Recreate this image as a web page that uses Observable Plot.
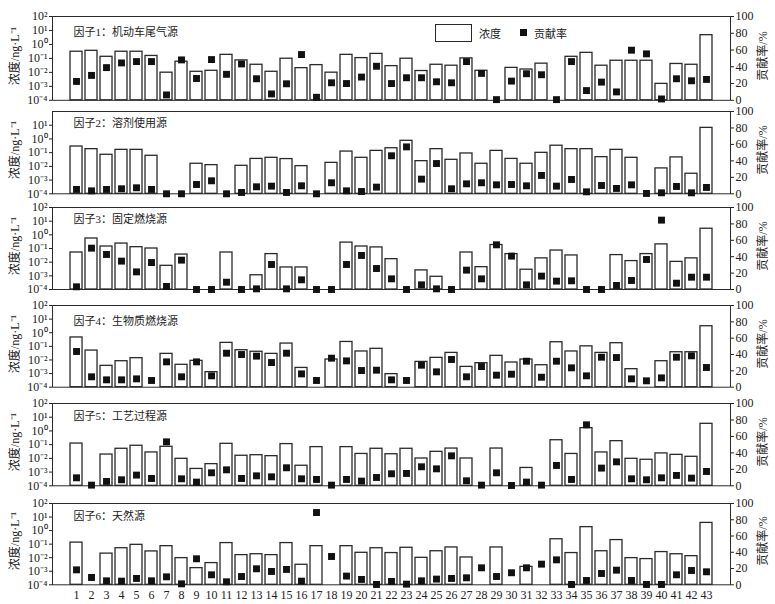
<!DOCTYPE html>
<html><head><meta charset="utf-8">
<script src="https://cdn.jsdelivr.net/npm/d3@7"></script>
<script src="https://cdn.jsdelivr.net/npm/@observablehq/plot@0.6"></script>
<style>
body{margin:0;background:#fff;}
#fig{position:relative;width:775px;height:604px;overflow:hidden;font-family:"Liberation Serif","Noto Sans CJK SC",serif;color:#222;}
.layer{position:absolute;left:0;}
.rot{position:absolute;font-size:12px;white-space:nowrap;transform:translate(-50%,-50%) rotate(-90deg);}
.lg{position:absolute;font-size:11px;white-space:nowrap;}
</style></head><body><div id="fig"></div>
<script>
const sites = [1,2,3,4,5,6,7,8,9,10,11,12,13,14,15,16,17,18,19,20,21,22,23,24,25,26,27,28,29,30,31,32,33,34,35,36,37,38,39,40,41,42,43];
const factorNames = ["因子1：机动车尾气源","因子2：溶剂使用源","因子3：固定燃烧源","因子4：生物质燃烧源","因子5：工艺过程源","因子6：天然源"];
// concentrations, ng/L (null = no bar)
const conc1 = [0.30,0.35,0.13,0.30,0.30,0.15,0.0095,0.058,0.011,0.013, 0.18,0.072,0.035,0.011,0.095,0.020,0.033,0.0095,0.18,0.105, 0.21,0.028,0.095,0.0125,0.035,0.030,0.10,0.013,null,0.021, 0.016,0.042,null,0.13,0.25,0.030,0.068,0.068,0.068,0.0015, 0.040,0.035,4.6];
const conc2 = [0.28,0.18,0.07,0.16,0.16,0.059,null,null,0.0155,0.0123, null,0.011,0.035,0.042,0.034,0.0104,null,0.018,0.12,0.042, 0.135,0.21,0.73,0.024,0.18,0.030,0.087,0.0155,0.135,0.035, 0.0155,0.097,0.32,0.18,0.18,0.047,0.16,0.042,null,0.0071, 0.045,0.0029,6.4];
const conc3 = [0.051,0.54,0.14,0.23,0.125,0.10,0.0054,0.036,null,null, 0.051,null,0.0011,0.039,0.0041,0.0041,null,null,0.27,0.14, 0.12,0.0166,null,0.0025,0.00085,null,0.051,0.0043,0.18,0.039, 0.0028,0.019,0.071,0.031,null,null,0.033,0.012,0.039,0.20, 0.0105,0.019,2.8];
const conc4 = [0.45,0.049,0.0037,0.0081,0.0135,null,0.028,0.0044,0.0086,0.00127, 0.18,0.052,0.040,0.028,0.16,0.0026,null,0.0108,0.21,0.042, 0.066,0.00091,null,0.0072,0.0143,0.033,0.0031,0.0058,0.020,0.0065, 0.0108,0.0041,0.20,0.042,0.10,0.033,0.17,0.0021,null,0.0081, 0.037,0.037,3.0];
const conc5 = [0.12,null,0.019,0.050,0.083,0.027,0.070,0.0093,0.0017,0.0038, 0.115,0.0155,0.017,0.0145,0.11,0.0029,0.066,null,0.066,0.021, 0.050,0.020,0.050,0.0098,0.030,0.052,0.0098,null,0.052,null, 0.0020,null,0.21,0.021,1.6,0.027,0.18,0.0093,0.0079,0.023, 0.018,0.013,3.3];
const conc6 = [0.13,null,0.020,0.050,0.089,0.029,0.071,0.0093,0.0017,0.0040, 0.12,0.0155,0.018,0.0155,0.12,0.0030,0.071,null,0.071,0.023, 0.050,0.022,0.054,0.0098,0.030,0.057,0.0104,null,0.057,null, 0.0021,null,0.23,0.022,1.8,0.030,0.20,0.0093,0.0079,0.026, 0.018,0.013,3.7];
// contribution rates, %
const pct1 = [22.5,29.7,39,44.6,46.2,46.2,6.4,48.2,26,48.6, 31,43.4,25.7,7.6,19.7,54.6,3.6,20.9,20,27.7, 40.6,20,26.9,26.9,22.1,20.9,46.2,32.1,0.8,22.9, 31.7,30.5,0.8,46.2,11.6,21.7,10,59.8,55.4,1.6, 25.7,23.3,24.9];
const pct2 = [5.3,3.6,5.3,6.1,7.3,5.3,0,0,11.3,15.8, 0,1.6,8.5,9.3,1.6,9.7,0,13.4,3.6,2.8, 8.1,46.2,57,17.8,36.8,6.1,12.1,13.4,10.9,11.3, 9.7,22.3,9.3,17.4,2.4,10.1,6.5,10.9,0.4,1.2, 8.9,1.2,7.7];
const pct3 = [3.3,50.4,42.7,34.6,21.5,32.9,3.7,35.8,0,0, 8.9,0,0.8,30.5,0.8,11.8,0,0,30.5,41.5, 25.6,13,0,5.7,0.8,0,23.6,13,54.5,40.7, 5.7,16.3,10.2,10.6,0,0,4.9,11,36.6,84.6, 7.7,15,15];
const pct4 = [43.7,12.7,9,9,10.2,8.2,31,12.7,31,13.9, 41.6,40,38,30.2,41.6,16.3,8.2,35.5,32.2,20.4, 20.8,9,8.2,26.9,18.8,33.9,12.7,25.3,14.7,15.9, 31.8,12.2,31.8,23.7,13.9,36.7,36.3,10.2,7.8,11.4, 36.7,38.4,24.1];
const pct5 = [9.7,0.8,5.3,7.3,13,8.9,53.4,8.5,4.5,15.8, 19.4,8.9,12.1,10.9,21.9,8.5,7.7,0.8,7.7,5.7, 10.1,14.6,15,23.1,20.6,36.4,6.1,0.8,15.8,0.4, 4.5,0.8,24.7,7.7,74.1,21.5,29.1,8.5,7.3,9.7, 12.6,9.3,17.4];
const pct6 = [18.4,9,4.9,4.5,7.8,4.9,9.8,1.2,32,12.3, 3.7,10.2,19.7,16.4,18.9,4.5,88.9,34.8,10.7,6.6, 0.4,4.1,0.8,4.9,7,7.8,8.6,20.9,10.2,14.8, 20.9,25.4,30.7,0.4,5.3,13.9,18,5.3,0.4,0.4, 12.3,17.6,16];
const concTicks = [1e-4,1e-3,1e-2,1e-1,1e0,1e1,1e2];
const concTickLabels = ["10⁻⁴","10⁻³","10⁻²","10⁻¹","10⁰","10¹","10²"];
const pctTicks = [0,20,40,60,80,100];
const yLabelLeft = "浓度/ng·L⁻¹";
const yLabelRight = "贡献率/%";
const legendLabels = ["浓度","贡献率"];

const concs = [conc1,conc2,conc3,conc4,conc5,conc6];
const pcts = [pct1,pct2,pct3,pct4,pct5,pct6];

// layout
const W = 775, ML = 52, MR = 45, PADT = 10;
const frameTops = [15.7,111,207.3,305,403,502.7];
const frameHs = [83.8,82.3,82,81.7,82.3,81.3];
const titleDy = [16,12,12,16,13,13];
const FONT = "Liberation Serif, Noto Sans CJK SC, serif";
const fig = document.getElementById("fig");

const xScale = {type:"band", domain:sites, paddingInner:0.22, paddingOuter:0.65};

factorNames.forEach((name,i)=>{
  const last = i === 5;
  const mt = PADT, mb = last ? 24 : PADT;
  const H = frameHs[i] + mt + mb;
  const data = sites.map((s,j)=>({site:s, conc:concs[i][j], pct:pcts[i][j]}));
  const ticks = i === 1 ? concTicks.slice(0,6) : concTicks;
  const marks = [
    Plot.barY(data, {filter:d=>d.conc!=null, x:"site", y1:1e-4, y2:"conc", fill:"white", stroke:"#2a2a2a", strokeWidth:1.3}),
    Plot.frame({stroke:"#2a2a2a", strokeWidth:1}),
    Plot.axisY(ticks, {anchor:"left", label:null, tickSize:3, tickPadding:2, fontSize:12, fontFamily:FONT,
      tickFormat:d=>concTickLabels[concTicks.indexOf(d)]}),
    Plot.text([name], {frameAnchor:"top-left", dx:21, dy:titleDy[i], textAnchor:"start", lineAnchor:"middle", fontSize:11, fontFamily:FONT, fill:"#222"})
  ];
  if (last) marks.push(Plot.axisX({label:null, tickSize:0, tickPadding:6, fontSize:12, fontFamily:FONT}));
  const bars = Plot.plot({
    width:W, height:H, marginLeft:ML, marginRight:MR, marginTop:mt, marginBottom:mb,
    x:{...xScale, axis:null, label:null},
    y:{type:"log", domain:[1e-4,1e2], axis:null, label:null},
    style:{background:"transparent", overflow:"visible", fontFamily:FONT, fontSize:"12px", color:"#222"},
    marks
  });
  const dots = Plot.plot({
    width:W, height:H, marginLeft:ML, marginRight:MR, marginTop:mt, marginBottom:mb,
    x:{...xScale, axis:null, label:null},
    y:{domain:[0,100], axis:null, label:null},
    style:{background:"transparent", overflow:"visible", fontFamily:FONT, fontSize:"12px", color:"#222"},
    marks:[
      Plot.dot(data, {x:"site", y:"pct", symbol:"square", r:3.9, fill:"#111", stroke:"none"}),
      Plot.axisY(pctTicks, {anchor:"right", label:null, tickSize:3, tickPadding:2, fontSize:12, fontFamily:FONT})
    ]
  });
  for (const svg of [bars, dots]) {
    svg.classList.add("layer");
    svg.style.top = (frameTops[i] - mt) + "px";
    fig.appendChild(svg);
  }
  const mid = frameTops[i] + frameHs[i]/2;
  const l = document.createElement("div");
  l.className = "rot"; l.textContent = yLabelLeft;
  l.style.left = "14px"; l.style.top = (mid - 2) + "px";
  fig.appendChild(l);
  const r = document.createElement("div");
  r.className = "rot"; r.textContent = yLabelRight;
  r.style.left = "762px"; r.style.top = (mid - 2) + "px";
  fig.appendChild(r);
});

// legend (panel 1)
const box = document.createElement("div");
box.style.cssText = "position:absolute;left:435px;top:24px;width:35px;height:16px;border:1px solid #2a2a2a;background:#fff;";
fig.appendChild(box);
const t1 = document.createElement("div");
t1.className = "lg"; t1.textContent = legendLabels[0];
t1.style.left = "479px"; t1.style.top = "25px";
fig.appendChild(t1);
const sq = document.createElement("div");
sq.style.cssText = "position:absolute;left:520px;top:29px;width:7px;height:7px;background:#111;";
fig.appendChild(sq);
const t2 = document.createElement("div");
t2.className = "lg"; t2.textContent = legendLabels[1];
t2.style.left = "534px"; t2.style.top = "25px";
fig.appendChild(t2);
</script>
</body></html>
